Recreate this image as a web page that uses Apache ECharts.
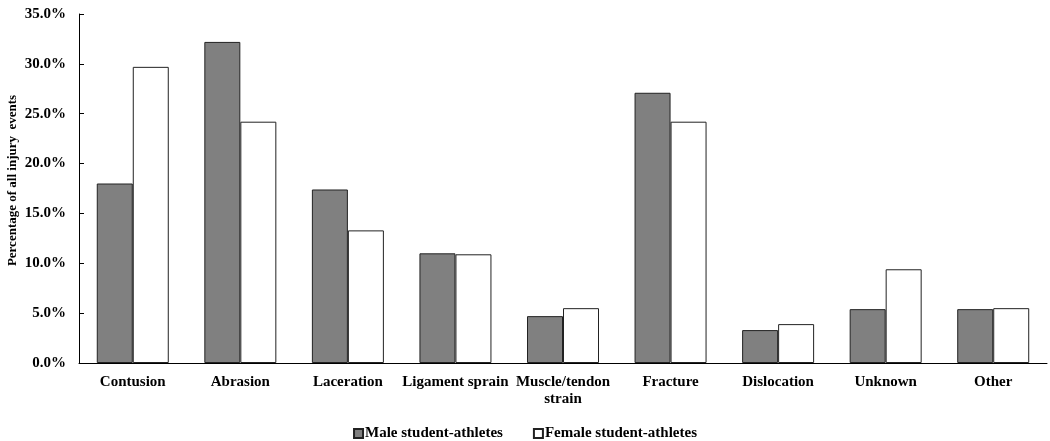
<!DOCTYPE html>
<html>
<head>
<meta charset="utf-8">
<script src="https://cdn.jsdelivr.net/npm/echarts@6/dist/echarts.min.js"></script>
<style>
  html, body { margin: 0; padding: 0; background: #fff; }
  #chart { width: 1050px; height: 441px; }
</style>
</head>
<body>
<div id="chart"></div>
<script>
const categories = ['Contusion', 'Abrasion', 'Laceration', 'Ligament sprain', 'Muscle/tendon\nstrain', 'Fracture', 'Dislocation', 'Unknown', 'Other'];
const maleValues = [18.0, 32.2, 17.4, 11.0, 4.7, 27.1, 3.3, 5.4, 5.4];
const femaleValues = [29.7, 24.2, 13.3, 10.9, 5.5, 24.2, 3.9, 9.4, 5.5];
const seriesNames = ['Male student-athletes', 'Female student-athletes'];
const yAxisTitle = 'Percentage of all injury  events';

const FONT = '"Liberation Serif", "Times New Roman", serif';
const chart = echarts.init(document.getElementById('chart'));
chart.setOption({
  backgroundColor: '#fff',
  animation: false,
  textStyle: { fontFamily: FONT },
  grid: { left: 79, right: 3, top: 14, bottom: 78, containLabel: false, outerBoundsMode: 'none' },
  legend: {
    top: 421,
    left: 'center',
    icon: 'rect',
    itemWidth: 9,
    itemHeight: 9,
    itemGap: 30,
    textStyle: { fontFamily: FONT, fontWeight: 'bold', fontSize: 15, color: '#000', padding: [0, 0, 0, -3] },
    data: seriesNames
  },
  xAxis: {
    type: 'category',
    data: categories,
    axisLine: { lineStyle: { color: '#000', width: 1 } },
    axisTick: { show: false },
    axisLabel: { color: '#000', fontFamily: FONT, fontWeight: 'bold', fontSize: 15, margin: 11, lineHeight: 17, interval: 0 }
  },
  yAxis: {
    type: 'value',
    min: 0, max: 35, interval: 5,
    name: yAxisTitle,
    nameLocation: 'middle',
    nameGap: 60,
    nameRotate: 90,
    nameMoveOverlap: false,
    nameTextStyle: { color: '#000', fontFamily: FONT, fontWeight: 'bold', fontSize: 13, padding: [0, 0, 0, 16] },
    axisLine: { show: true, lineStyle: { color: '#000', width: 1 } },
    axisTick: { show: true, inside: true, length: 5, lineStyle: { color: '#000' } },
    splitLine: { show: false },
    axisLabel: { color: '#000', fontFamily: FONT, fontWeight: 'bold', fontSize: 15, margin: 13, formatter: v => v.toFixed(1) + '%' }
  },
  series: [
    {
      name: seriesNames[0], type: 'bar', data: maleValues,
      barWidth: 36, barGap: '0%',
      itemStyle: { color: '#808080', borderColor: '#222', borderWidth: 1 }
    },
    {
      name: seriesNames[1], type: 'bar', data: femaleValues,
      barWidth: 36, barGap: '0%',
      itemStyle: { color: '#ffffff', borderColor: '#222', borderWidth: 1 }
    }
  ]
});
</script>
</body>
</html>
